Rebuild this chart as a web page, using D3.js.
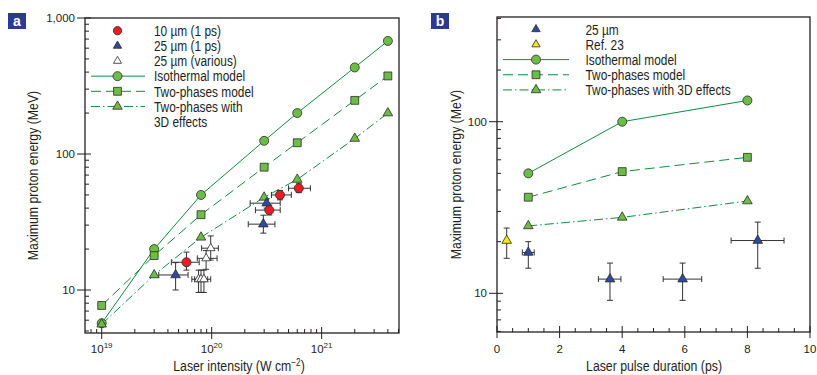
<!DOCTYPE html>
<html><head><meta charset="utf-8">
<script src="https://cdn.jsdelivr.net/npm/d3@7"></script>
<style>
html,body{margin:0;padding:0;background:#fff;}
svg{display:block;}
.t{font-family:"Liberation Sans",Arial,sans-serif;fill:#231f20;}
.k{font-family:"Liberation Sans",Arial,sans-serif;fill:#231f20;}
</style></head>
<body>
<script>
// ---------- Panel a data ----------
const modelA_I = [1e19, 3e19, 8e19, 3e20, 6e20, 2e21, 4e21];
const isoA = [5.7, 20, 50, 125, 200, 433, 678];
const twoA = [7.7, 17.9, 35.8, 80, 121, 248, 375];
const threeA = [5.6, 12.9, 24.4, 48, 65, 130, 200];

// 10 um (1 ps): intensity, energy, intensity low/high, energy low/high
const red_I = [5.9e19, 3.34e20, 4.18e20, 6.2e20];
const red_E = [16, 38.7, 50, 56];
const red_Ilo = [4.3e19, 2.5e20, 3.5e20, 5.0e20];
const red_Ihi = [7.7e19, 4.2e20, 5.3e20, 7.9e20];
const red_Elo = [14, 35.6, 46, 52];
const red_Ehi = [19, 42.1, 54, 61];

// 25 um (1 ps)
const blue_I = [4.7e19, 2.95e20, 3.16e20];
const blue_E = [12.9, 30.5, 43.5];
const blue_Ilo = [3.3e19, 2.15e20, 2.24e20];
const blue_Ihi = [6.1e19, 3.76e20, 4.2e20];
const blue_Elo = [10, 26.2, 40];
const blue_Ehi = [15.9, 35.5, 47];

// 25 um (various)
const white_I = [9.8e19, 8.9e19, 7.6e19, 8.0e19, 8.5e19];
const white_E = [20.3, 17.1, 12, 12, 12];
const white_Ilo = [8.1e19, 7.4e19, 6.6e19, 7.0e19, 7.4e19];
const white_Ihi = [1.15e20, 1.12e20, 8.8e19, 9.2e19, 9.8e19];
const white_Elo = [16.6, 14.2, 9.6, 9.6, 9.6];
const white_Ehi = [25, 19.5, 14, 14, 14];

const yTicksA = [10, 100, 1000];
const yTickLabelsA = ["10", "100", "1,000"];
const xTicksA = [1e19, 1e20, 1e21];
const xTickExpA = ["19", "20", "21"];
const legendA = ["10 \u00b5m (1 ps)", "25 \u00b5m (1 ps)", "25 \u00b5m (various)", "Isothermal model", "Two-phases model", "Two-phases with", "3D effects"];

// ---------- Panel b data ----------
const modelB_t = [1, 4, 8];
const isoB = [50, 100, 133];
const twoB = [36.3, 51.2, 62];
const threeB = [24.7, 27.7, 34.5];

const blueB_t = [1.0, 3.61, 5.93, 8.33];
const blueB_E = [17.3, 12.1, 12.1, 20.3];
const blueB_tlo = [0.81, 3.24, 5.31, 7.48];
const blueB_thi = [1.19, 3.96, 6.54, 9.17];
const blueB_Elo = [14, 9.1, 9.1, 14];
const blueB_Ehi = [20, 15, 15, 26];

const yelB_t = [0.31];
const yelB_E = [20.3];
const yelB_Elo = [16];
const yelB_Ehi = [24];

const yTicksB = [10, 100];
const xTicksB = [0, 2, 4, 6, 8, 10];
const legendB = ["25 \u00b5m", "Ref. 23", "Isothermal model", "Two-phases model", "Two-phases with 3D effects"];

// ---------- styles ----------
const LINE = "#118a3e", MFILL = "#6cbd45", MSTROKE = "#2b2b2b";
const RED = "#ec1c24", BLUE = "#2e4a9e", YEL = "#f3e61b", PANEL = "#2b3b8f";
const DASH2 = "10,5", DASH3 = "9,3,1.5,3";
const NARROW = 0.82;

const svg = d3.select("body").append("svg").attr("width", 817).attr("height", 375);

// condensed text helper (horizontal compression of Liberation Sans)
function ctext(g, x, y, size, anchor, rot) {
  const gg = g.append("g").attr("transform", `translate(${x},${y}) rotate(${rot || 0}) scale(${NARROW},1)`);
  return gg.append("text").attr("class", "t").attr("x", 0).attr("y", 0).attr("font-size", size).attr("text-anchor", anchor);
}

function marker(g, type, x, y, fill, sc) {
  sc = sc || 1;
  let sym, size;
  if (type === "circle") { sym = d3.symbolCircle; size = 64 * sc; }
  else if (type === "square") { sym = d3.symbolSquare; size = 62 * sc; }
  else { sym = d3.symbolTriangle; size = 40 * sc; }
  g.append("path").attr("d", d3.symbol().type(sym).size(size)())
    .attr("transform", `translate(${x},${y})`)
    .attr("fill", fill).attr("stroke", MSTROKE).attr("stroke-width", 0.8);
}
function ebar(g, x, y, x1, x2, y1, y2) {
  const c = 3, st = "#333";
  if (x1 != null) {
    g.append("line").attr("x1", x1).attr("x2", x2).attr("y1", y).attr("y2", y).attr("stroke", st).attr("stroke-width", 1);
    [x1, x2].forEach(v => g.append("line").attr("x1", v).attr("x2", v).attr("y1", y - c).attr("y2", y + c).attr("stroke", st).attr("stroke-width", 1));
  }
  if (y1 != null) {
    g.append("line").attr("x1", x).attr("x2", x).attr("y1", y1).attr("y2", y2).attr("stroke", st).attr("stroke-width", 1);
    [y1, y2].forEach(v => g.append("line").attr("x1", x - c).attr("x2", x + c).attr("y1", v).attr("y2", v).attr("stroke", st).attr("stroke-width", 1));
  }
}
function panelLabel(x, y, s) {
  svg.append("rect").attr("x", x).attr("y", y).attr("width", 18).attr("height", 16).attr("fill", PANEL);
  svg.append("text").attr("x", x + 9).attr("y", y + 12.5).attr("text-anchor", "middle")
    .attr("font-family", "Liberation Sans, Arial, sans-serif").attr("font-weight", "bold")
    .attr("font-size", 14).attr("fill", "#fff").text(s);
}
function frame(x0, x1, y0, y1) {
  svg.append("rect").attr("x", x0).attr("y", y0).attr("width", x1 - x0).attr("height", y1 - y0)
    .attr("fill", "none").attr("stroke", "#231f20").attr("stroke-width", 1.3);
}

// ================= PANEL A =================
const A = {x0: 85, x1: 399, y0: 18, y1: 333};
const xA = d3.scaleLog().domain([7.05e18, 5.05e21]).range([A.x0, A.x1]);
const yA = d3.scaleLog().domain([4.83, 1000]).range([A.y1, A.y0]);
panelLabel(8, 13, "a");

const gA = svg.append("g");
const minorYA = [];
[1, 10, 100].forEach(d => { for (let m = 2; m <= 9; m++) { const v = d * m; if (v >= 4.83 && v <= 1000) minorYA.push(v); } });
minorYA.forEach(v => gA.append("line").attr("x1", A.x0).attr("x2", A.x0 + 4).attr("y1", yA(v)).attr("y2", yA(v)).attr("stroke", "#231f20"));
const minorXA = [];
[1e18, 1e19, 1e20, 1e21].forEach(d => { for (let m = 2; m <= 9; m++) { const v = d * m; if (v >= 7.05e18 && v <= 5.05e21) minorXA.push(v); } });
minorXA.forEach(v => gA.append("line").attr("x1", xA(v)).attr("x2", xA(v)).attr("y1", A.y1).attr("y2", A.y1 - 4).attr("stroke", "#231f20"));
yTicksA.forEach((v, i) => {
  gA.append("line").attr("x1", A.x0 - 8).attr("x2", A.x0 + 6).attr("y1", yA(v)).attr("y2", yA(v)).attr("stroke", "#231f20");
  gA.append("text").attr("class", "k").attr("x", A.x0 - 10).attr("y", yA(v)).attr("dy", "0.36em")
    .attr("text-anchor", "end").attr("font-size", 11.5).text(yTickLabelsA[i]);
});
xTicksA.forEach((v, i) => {
  gA.append("line").attr("x1", xA(v)).attr("x2", xA(v)).attr("y1", A.y1 - 6).attr("y2", A.y1 + 6).attr("stroke", "#231f20");
  const t = gA.append("text").attr("class", "k").attr("x", xA(v)).attr("y", 353).attr("text-anchor", "middle").attr("font-size", 11.5);
  t.append("tspan").text("10");
  t.append("tspan").attr("dy", -5).attr("font-size", 8).text(xTickExpA[i]);
});
frame(A.x0, A.x1, A.y0, A.y1);

const lineA = d3.line().x(d => xA(d[0])).y(d => yA(d[1]));
[[isoA, null], [twoA, DASH2], [threeA, DASH3]].forEach(([arr, dash]) => {
  const pts = modelA_I.map((v, i) => [v, arr[i]]);
  gA.append("path").attr("d", lineA(pts)).attr("fill", "none").attr("stroke", LINE).attr("stroke-width", 1)
    .attr("stroke-dasharray", dash);
});
function expA(I, E, Ilo, Ihi, Elo, Ehi) {
  I.forEach((v, i) => ebar(gA, xA(v), yA(E[i]), xA(Ilo[i]), xA(Ihi[i]), yA(Elo[i]), yA(Ehi[i])));
}
expA(white_I, white_E, white_Ilo, white_Ihi, white_Elo, white_Ehi);
expA(blue_I, blue_E, blue_Ilo, blue_Ihi, blue_Elo, blue_Ehi);
expA(red_I, red_E, red_Ilo, red_Ihi, red_Elo, red_Ehi);
[[isoA, "circle"], [twoA, "square"], [threeA, "triangle"]].forEach(([arr, type]) => {
  modelA_I.forEach((v, i) => marker(gA, type, xA(v), yA(arr[i]), MFILL));
});
white_I.forEach((v, i) => marker(gA, "triangle", xA(v), yA(white_E[i]), "#fff", 0.8));
blue_I.forEach((v, i) => marker(gA, "triangle", xA(v), yA(blue_E[i]), BLUE));
red_I.forEach((v, i) => marker(gA, "circle", xA(v), yA(red_E[i]), RED));

// legend a
const LA = {sx: 117.5, l0: 91, l1: 145, tx: 154, y0: 30.7, dy: 15.15};
legendA.forEach((s, i) => {
  ctext(gA, LA.tx, LA.y0 + i * LA.dy, 14.5, "start").attr("dy", "0.36em").text(s);
});
marker(gA, "circle", LA.sx, LA.y0, RED, 0.85);
marker(gA, "triangle", LA.sx, LA.y0 + LA.dy, BLUE, 0.75);
marker(gA, "triangle", LA.sx, LA.y0 + 2 * LA.dy, "#fff", 0.7);
[[null, "circle"], [DASH2, "square"], [DASH3, "triangle"]].forEach(([dash, type], j) => {
  const yy = LA.y0 + (3 + j) * LA.dy;
  gA.append("line").attr("x1", LA.l0).attr("x2", LA.l1).attr("y1", yy).attr("y2", yy)
    .attr("stroke", LINE).attr("stroke-width", 1).attr("stroke-dasharray", dash);
  marker(gA, type, LA.sx, yy, MFILL);
});

// axis titles a
ctext(svg, 37.5, (A.y0 + A.y1) / 2, 15, "middle", -90).text("Maximum proton energy (MeV)");
const xtA = ctext(svg, 239, 371, 15, "middle");
xtA.append("tspan").text("Laser intensity (W cm");
xtA.append("tspan").attr("dy", -5).attr("font-size", 10).text("\u22122");
xtA.append("tspan").attr("dy", 5).text(")");

// ================= PANEL B =================
const B = {x0: 497, x1: 810, y0: 17, y1: 332};
const xB = d3.scaleLinear().domain([0, 10]).range([B.x0, B.x1]);
const yB = d3.scaleLog().domain([5.95, 407.6]).range([B.y1, B.y0]);
panelLabel(431, 13, "b");
const gB = svg.append("g");
const minorYB = [];
[1, 10, 100].forEach(d => { for (let m = 2; m <= 9; m++) { const v = d * m; if (v >= 5.95 && v <= 407.6) minorYB.push(v); } });
minorYB.forEach(v => gB.append("line").attr("x1", B.x0).attr("x2", B.x0 + 4).attr("y1", yB(v)).attr("y2", yB(v)).attr("stroke", "#231f20"));
d3.range(0.5, 10, 1).forEach(v => gB.append("line").attr("x1", xB(v)).attr("x2", xB(v)).attr("y1", B.y1).attr("y2", B.y1 - 4).attr("stroke", "#231f20"));
d3.range(1, 10, 2).forEach(v => gB.append("line").attr("x1", xB(v)).attr("x2", xB(v)).attr("y1", B.y1).attr("y2", B.y1 - 4).attr("stroke", "#231f20"));
yTicksB.forEach(v => {
  gB.append("line").attr("x1", B.x0 - 8).attr("x2", B.x0 + 6).attr("y1", yB(v)).attr("y2", yB(v)).attr("stroke", "#231f20");
  gB.append("text").attr("class", "k").attr("x", B.x0 - 10).attr("y", yB(v)).attr("dy", "0.36em")
    .attr("text-anchor", "end").attr("font-size", 11.5).text(String(v));
});
xTicksB.forEach(v => {
  gB.append("line").attr("x1", xB(v)).attr("x2", xB(v)).attr("y1", B.y1 - 6).attr("y2", B.y1 + 6).attr("stroke", "#231f20");
  gB.append("text").attr("class", "k").attr("x", xB(v)).attr("y", 353).attr("text-anchor", "middle").attr("font-size", 11.5).text(String(v));
});
frame(B.x0, B.x1, B.y0, B.y1);

const lineB = d3.line().x(d => xB(d[0])).y(d => yB(d[1]));
[[isoB, null], [twoB, DASH2], [threeB, DASH3]].forEach(([arr, dash]) => {
  gB.append("path").attr("d", lineB(modelB_t.map((t, i) => [t, arr[i]]))).attr("fill", "none")
    .attr("stroke", LINE).attr("stroke-width", 1).attr("stroke-dasharray", dash);
});
[[isoB, "circle"], [twoB, "square"], [threeB, "triangle"]].forEach(([arr, type]) => {
  modelB_t.forEach((t, i) => marker(gB, type, xB(t), yB(arr[i]), MFILL));
});
blueB_t.forEach((t, i) => ebar(gB, xB(t), yB(blueB_E[i]), xB(blueB_tlo[i]), xB(blueB_thi[i]), yB(blueB_Elo[i]), yB(blueB_Ehi[i])));
yelB_t.forEach((t, i) => ebar(gB, xB(t), yB(yelB_E[i]), null, null, yB(yelB_Elo[i]), yB(yelB_Ehi[i])));
blueB_t.forEach((t, i) => marker(gB, "triangle", xB(t), yB(blueB_E[i]), BLUE));
yelB_t.forEach((t, i) => marker(gB, "triangle", xB(t), yB(yelB_E[i]), YEL));

const LB = {sx: 536, l0: 503, l1: 569, tx: 585.5, y0: 29.3, dy: 15.15};
legendB.forEach((s, i) => {
  ctext(gB, LB.tx, LB.y0 + i * LB.dy, 14.5, "start").attr("dy", "0.36em").text(s);
});
marker(gB, "triangle", LB.sx, LB.y0, BLUE, 0.75);
marker(gB, "triangle", LB.sx, LB.y0 + LB.dy, YEL, 0.75);
[[null, "circle"], [DASH2, "square"], [DASH3, "triangle"]].forEach(([dash, type], j) => {
  const yy = LB.y0 + (2 + j) * LB.dy;
  gB.append("line").attr("x1", LB.l0).attr("x2", LB.l1).attr("y1", yy).attr("y2", yy)
    .attr("stroke", LINE).attr("stroke-width", 1).attr("stroke-dasharray", dash);
  marker(gB, type, LB.sx, yy, MFILL);
});

ctext(svg, 460.5, (B.y0 + B.y1) / 2, 15, "middle", -90).text("Maximum proton energy (MeV)");
ctext(svg, 654, 371, 15, "middle").text("Laser pulse duration (ps)");
</script>
</body></html>
